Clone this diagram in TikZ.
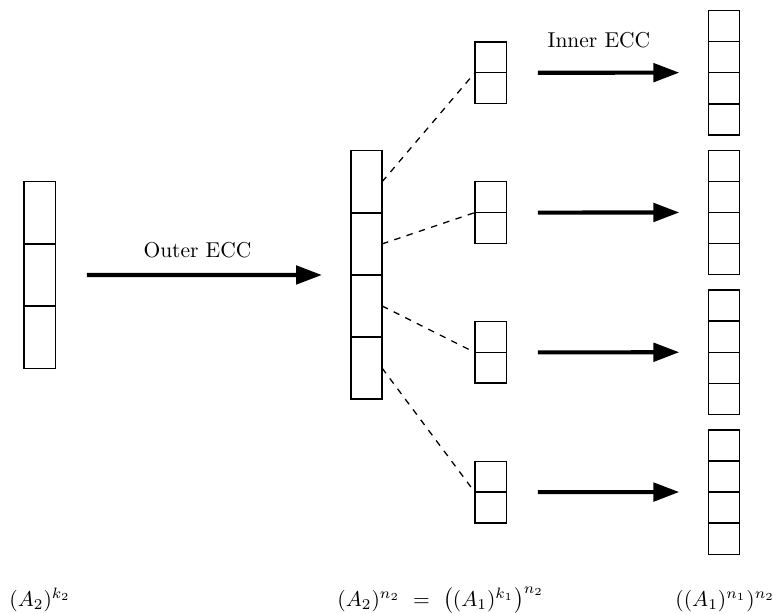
\documentclass[tikz,border=0pt]{standalone}
\usetikzlibrary{arrows.meta}
\begin{document}
\begin{tikzpicture}[x=0.465pt,y=-0.465pt,
  cellbig/.style={draw, line width=0.65pt, minimum width=14.5pt, minimum height=28.9pt, inner sep=0pt, outer sep=0pt},
  cellsmall/.style={draw, line width=0.65pt, minimum width=14.6pt, minimum height=14.4pt, inner sep=0pt, outer sep=0pt},
  bigarrow/.style={line width=1.9pt, -{Triangle[length=12pt,width=8.5pt]}},
  link/.style={dashed, line width=0.6pt},
  lbl/.style={inner sep=0pt, anchor=base west}]
\useasboundingbox (0,0) rectangle (773,613);

% source word: three symbols
\foreach \i in {1,2,3}
  \node[cellbig] (L\i) at (39.7, {150.6+62.2*\i}) {};

% outer codeword: four symbols
\foreach \i in {1,2,3,4}
  \node[cellbig] (M\i) at (366.5, {119.7+62.1*\i}) {};

% each outer symbol split in two, then inner-encoded to four
\foreach \k in {1,2,3,4} {
  \pgfmathsetmacro{\rowy}{72.7+139.8*(\k-1)}
  \node[cellsmall] (Sa\k) at (490.5, {\rowy-15.4}) {};
  \node[cellsmall] (Sb\k) at (490.5, {\rowy+15.4}) {};
  \foreach \j in {1,2,3,4} {
    \node[cellsmall] (R\k-\j) at (724, {\rowy+15.55*(2*\j-5)}) {};
  }
  \draw[link] (M\k.east) -- (Sa\k.south west);
  \draw[bigarrow] ([xshift=14.7pt]Sa\k.south east) -- ([xshift=-13.5pt]R\k-2.south west);
}

\draw[bigarrow] ([xshift=14.7pt]L2.east) -- ([xshift=-13.5pt]M2.south west);

\node (outer) at (197.5, 250) {Outer ECC};
\node (inner) at (599, 40) {Inner ECC};

\node[lbl] (srclbl) at (9, 606) {$(A_2)^{k_2}$};
\node[lbl] (midlbl) at (337, 606) {$(A_2)^{n_2}\ =\ \big((A_1)^{k_1}\big)^{n_2}$};
\node[lbl] (dstlbl) at (675, 606) {$((A_1)^{n_1})^{n_2}$};
\end{tikzpicture}
\end{document}
